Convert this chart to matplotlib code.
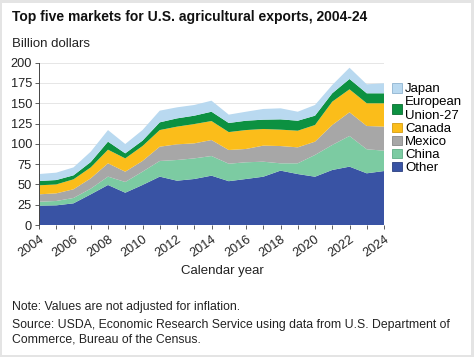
import matplotlib
matplotlib.use("Agg")
import matplotlib.pyplot as plt
import numpy as np
from matplotlib.patches import Rectangle, Patch

plt.rcParams['font.family'] = ['Liberation Sans', 'DejaVu Sans']

years = list(range(2004, 2025))
other  = [23.8,24.2,26.7,37.8,49.3,39.8,49.3,59.6,54.6,56.7,60.8,54.0,56.7,59.5,67.0,62.8,59.5,67.8,71.9,63.7,66.5]
china  = [4.9,5.4,6.6,7.0,10.3,13.2,16.4,19.3,25.5,25.4,24.2,21.5,20.6,18.5,9.0,13.2,26.8,30.8,37.8,29.6,25.1]
mexico = [9.1,9.4,10.7,12.7,16.4,12.7,13.2,17.6,19.3,18.5,19.7,16.9,16.4,19.8,21.3,19.7,16.4,24.6,29.2,28.7,29.6]
canada = [11.1,11.0,12.3,13.5,16.8,16.4,18.4,20.5,21.8,23.8,23.4,22.1,23.3,20.5,20.2,20.5,20.5,28.8,28.3,28.0,28.8]
eu     = [5.3,5.4,4.9,6.6,9.9,6.2,6.6,9.5,10.2,10.3,11.5,11.2,11.5,11.5,12.7,12.3,11.5,10.3,12.7,12.3,12.3]
japan  = [8.6,9.1,9.8,12.8,14.3,11.5,13.1,14.4,13.6,13.2,13.6,10.3,11.1,13.2,13.6,11.1,13.2,10.2,13.9,11.1,12.3]

series_names = ['Other', 'China', 'Mexico', 'Canada', 'European\nUnion-27', 'Japan']
colors = ['#3953a4', '#7ccba2', '#a7a7a7', '#fbbd1a', '#0c9141', '#b9d9f0']
edges = ['#2b3f80', '#5fae86', '#888888', '#d49c10', '#0a6e32', '#8fb4d0']
ytick_vals = [0, 25, 50, 75, 100, 125, 150, 175, 200]
xtick_labels = [str(y) for y in range(2004, 2025, 2)]

W, H = 474, 357
fig = plt.figure(figsize=(W/100, H/100), dpi=100)
fig.patch.set_facecolor('#e4e4e4')
fig.patches.append(Rectangle((2/W, 2/H), (W-3)/W - 2/W, (H-3)/H - 2/H,
                             transform=fig.transFigure, facecolor='white',
                             edgecolor='none', zorder=-5))

ax = fig.add_axes([39/W, 1-225/H, (384-39)/W, (225-62.7)/H])
ax.set_zorder(2)
ax.set_facecolor('white')
ax.stackplot(years, other, china, mexico, canada, eu, japan,
             colors=colors, linewidth=0, zorder=2)
ax.set_xlim(2004, 2024)
ax.set_ylim(0, 200)
ax.set_yticks(ytick_vals)
ax.set_yticklabels([str(v) for v in ytick_vals], fontsize=9.2, color='#222222')
ax.set_xticks(list(range(2004, 2025, 2)))
ax.set_xticklabels(xtick_labels, rotation=35, ha='right', rotation_mode='anchor',
                   fontsize=9.2, color='#222222')
ax.set_xticks(years, minor=True)
ax.tick_params(axis='x', which='both', length=3, color='#444444', width=0.6, pad=3)
ax.tick_params(axis='y', length=3, color='#444444', width=0.6, pad=2)
ax.grid(axis='y', color='#e6e6e6', linewidth=0.7, zorder=1)
ax.set_axisbelow(True)
for s in ['top', 'right', 'bottom']:
    ax.spines[s].set_visible(False)
ax.spines['left'].set_color('#444444')
ax.spines['left'].set_linewidth(0.7)

handles = [Patch(facecolor=c, edgecolor=e, linewidth=0.6) for c, e in zip(colors, edges)]
leg = fig.legend(handles[::-1], series_names[::-1], loc='upper left',
                 bbox_to_anchor=(392/W, 1-83/H), frameon=False, fontsize=9.5,
                 handlelength=0.75, handleheight=0.75, handletextpad=0.25,
                 labelspacing=0.05, borderaxespad=0, borderpad=0)
leg.set_zorder(3)

fig.text(12/W, 1-17/H, 'Top five markets for U.S. agricultural exports, 2004-24',
         fontsize=10, fontweight='bold', va='center', ha='left', color='#111111')
fig.text(12/W, 1-44/H, 'Billion dollars', fontsize=9.5, va='center', ha='left', color='#222222')
fig.text(222/W, 1-271/H, 'Calendar year', fontsize=9.5, va='center', ha='center', color='#222222')
fig.text(12/W, 1-307/H, 'Note: Values are not adjusted for inflation.', fontsize=8.8,
         va='center', ha='left', color='#222222')
fig.text(12/W, 1-325/H, 'Source: USDA, Economic Research Service using data from U.S. Department of',
         fontsize=8.8, va='center', ha='left', color='#222222')
fig.text(12/W, 1-340/H, 'Commerce, Bureau of the Census.', fontsize=8.8,
         va='center', ha='left', color='#222222')

fig.savefig('out.png', dpi=100, facecolor=fig.get_facecolor())
